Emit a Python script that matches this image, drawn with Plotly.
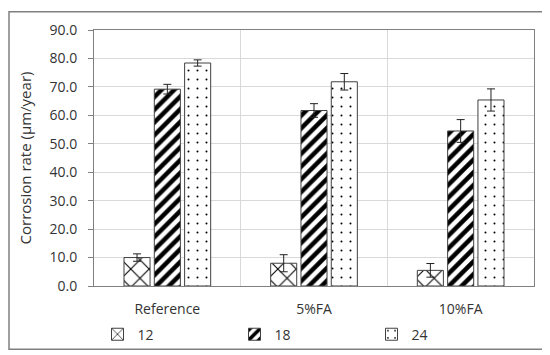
import plotly.graph_objects as go

categories = ["Reference", "5%FA", "10%FA"]
series_names = ["12", "18", "24"]
values_12 = [10.0, 8.0, 5.5]
values_18 = [69.2, 61.7, 54.5]
values_24 = [78.4, 71.8, 65.4]
err_12 = [1.3, 3.0, 2.4]
err_18 = [1.7, 2.4, 4.0]
err_24 = [1.1, 2.9, 3.9]
y_ticks = [0, 10, 20, 30, 40, 50, 60, 70, 80, 90]

patterns = [
    dict(shape="x", size=13, solidity=0.16, fgcolor="#000000", fgopacity=1, bgcolor="white"),
    dict(shape="/", size=9, solidity=0.5, fgcolor="#000000", fgopacity=1, bgcolor="white"),
    dict(shape=".", size=9, solidity=0.04, fgcolor="#000000", fgopacity=1, bgcolor="white"),
]

fig = go.Figure()
for name, vals, errs, pat in zip(series_names, [values_12, values_18, values_24],
                                 [err_12, err_18, err_24], patterns):
    fig.add_trace(go.Bar(
        x=categories, y=vals, name=name,
        marker=dict(color="white", pattern=pat,
                    line=dict(color="#404040", width=1)),
        error_y=dict(type="data", array=errs, color="#222222",
                     thickness=1, width=4),
    ))

W, H = 550, 355
ml, mr, mt, mb = 86, 24, 20, 68
pw, ph = W - ml - mr, H - mt - mb

fig.update_layout(
    width=W, height=H,
    margin=dict(l=ml, r=mr, t=mt, b=mb),
    paper_bgcolor="white", plot_bgcolor="white",
    barmode="group", bargap=0.38, bargroupgap=0.14,
    font=dict(family="Open Sans, Liberation Sans, sans-serif", size=13, color="#333333"),
    showlegend=True,
    legend=dict(orientation="h", x=0.475, xanchor="center", y=-0.19, yanchor="middle",
                entrywidth=92, entrywidthmode="pixels",
                bgcolor="rgba(0,0,0,0)",
                font=dict(size=14, color="#333333"),
                itemwidth=30, traceorder="normal"),
    xaxis=dict(type="category", tickson="boundaries", showgrid=True,
               gridcolor="#d9d9d9", gridwidth=1, ticks="",
               ticklabelstandoff=10,
               showline=True, linecolor="#808080", linewidth=1, mirror=True,
               tickfont=dict(size=14, color="#333333")),
    yaxis=dict(range=[0, 90], tickvals=y_ticks,
               ticktext=[f"{v:.1f}" for v in y_ticks],
               showgrid=True, gridcolor="#d9d9d9", gridwidth=1,
               ticks="outside", ticklen=5, tickcolor="#808080",
               ticklabelstandoff=8,
               showline=True, linecolor="#808080", linewidth=1, mirror=True,
               zeroline=False,
               title=dict(text="Corrosion rate (μm/year)", font=dict(size=15, color="#333333"),
                          standoff=14),
               tickfont=dict(size=14, color="#333333")),
    shapes=[dict(type="rect", xref="paper", yref="paper",
                 x0=(1 - ml) / pw, x1=(W - 6 - ml) / pw,
                 y0=-(H - 2 - mt - ph) / ph, y1=1 + (mt - 1) / ph,
                 line=dict(color="#808080", width=1.5), fillcolor="rgba(0,0,0,0)")],
)

fig.write_html("out.html")
